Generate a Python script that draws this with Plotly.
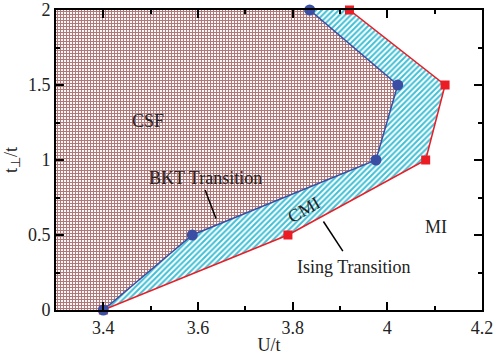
import plotly.graph_objects as go

t_perp = [0.0, 0.5, 1.0, 1.5, 2.0]
U_bkt = [3.40, 3.588, 3.976, 4.022, 3.836]
U_ising = [3.40, 3.79, 4.081, 4.122, 3.92]

x_range = [3.3, 4.2]
y_range = [0.0, 2.0]
x_ticks = [3.4, 3.6, 3.8, 4.0, 4.2]
x_ticktext = ["3.4", "3.6", "3.8", "4", "4.2"]
y_ticks = [0.0, 0.5, 1.0, 1.5, 2.0]
y_ticktext = ["0", "0.5", "1", "1.5", "2"]

blue = "#3a4fa3"
red = "#ec1c24"
font_family = "Liberation Serif, Times New Roman, serif"

fig = go.Figure()

# CSF region (left of the BKT line)
csf_x = [x_range[0]] + U_bkt + [x_range[0]]
csf_y = [y_range[0]] + t_perp + [y_range[1]]
fig.add_trace(go.Scatter(
    x=csf_x, y=csf_y, mode="lines", fill="toself",
    line=dict(width=0, color="rgba(0,0,0,0)"),
    fillcolor="rgba(0,0,0,0)",
    fillpattern=dict(shape="+", fgcolor="#b07878", bgcolor="white", size=3, solidity=0.6),
    hoverinfo="skip", showlegend=False))

# CMI region (between BKT and Ising lines)
cmi_x = U_bkt + U_ising[::-1]
cmi_y = t_perp + t_perp[::-1]
fig.add_trace(go.Scatter(
    x=cmi_x, y=cmi_y, mode="lines", fill="toself",
    line=dict(width=0, color="rgba(0,0,0,0)"),
    fillcolor="rgba(0,0,0,0)",
    fillpattern=dict(shape="/", fgcolor="#40c0d6", bgcolor="white", size=4, solidity=0.5),
    hoverinfo="skip", showlegend=False))

# Ising transition line
fig.add_trace(go.Scatter(
    x=U_ising, y=t_perp, mode="lines+markers",
    line=dict(color=red, width=1.5),
    marker=dict(symbol="square", size=9, color=red),
    cliponaxis=False, showlegend=False))

# BKT transition line
fig.add_trace(go.Scatter(
    x=U_bkt, y=t_perp, mode="lines+markers",
    line=dict(color=blue, width=1.5),
    marker=dict(symbol="circle", size=11, color=blue),
    cliponaxis=False, showlegend=False))

# pointer lines for labels
fig.add_trace(go.Scatter(x=[3.615, 3.638], y=[0.80, 0.61], mode="lines",
                         line=dict(color="black", width=1.5), hoverinfo="skip", showlegend=False))
fig.add_trace(go.Scatter(x=[3.865, 3.906], y=[0.59, 0.393], mode="lines",
                         line=dict(color="black", width=1.5), hoverinfo="skip", showlegend=False))

txt = dict(family=font_family, size=18, color="#222222")
fig.add_annotation(x=3.495, y=1.26, text="CSF", showarrow=False, font=txt)
fig.add_annotation(x=3.615, y=0.88, text="BKT Transition", showarrow=False, font=txt)
fig.add_annotation(x=3.823, y=0.667, text="CMI", showarrow=False, font=txt, textangle=-30)
fig.add_annotation(x=3.929, y=0.287, text="Ising Transition", showarrow=False, font=txt)
fig.add_annotation(x=4.102, y=0.553, text="MI", showarrow=False, font=txt)

tickfont = dict(family=font_family, size=18, color="#222222")
axis_common = dict(
    showgrid=False, zeroline=False, showline=True, linecolor="black", linewidth=2,
    mirror="ticks", ticks="inside", ticklen=8, tickwidth=1.8, tickcolor="black",
    tickfont=tickfont, automargin=False,
)

fig.update_xaxes(range=x_range, tickmode="array", tickvals=x_ticks, ticktext=x_ticktext,
                 minor=dict(ticks="inside", ticklen=4, tickwidth=1.5, tickcolor="black",
                            dtick=0.1, tick0=3.3, showgrid=False),
                 title=dict(text="U/t", font=tickfont, standoff=2),
                 **axis_common)
fig.update_yaxes(range=y_range, tickmode="array", tickvals=y_ticks, ticktext=y_ticktext,
                 minor=dict(ticks="inside", ticklen=4, tickwidth=1.5, tickcolor="black",
                            dtick=0.25, tick0=0, showgrid=False),
                 title=dict(text="t<sub>⊥</sub>/t", font=tickfont, standoff=6),
                 **axis_common)

fig.update_layout(
    template="none",
    width=494, height=355,
    margin=dict(l=56, r=12, t=10, b=45),
    plot_bgcolor="white", paper_bgcolor="white",
)

fig.write_html("out.html", post_script="document.body.style.margin='0';",
               config={"displayModeBar": False})
